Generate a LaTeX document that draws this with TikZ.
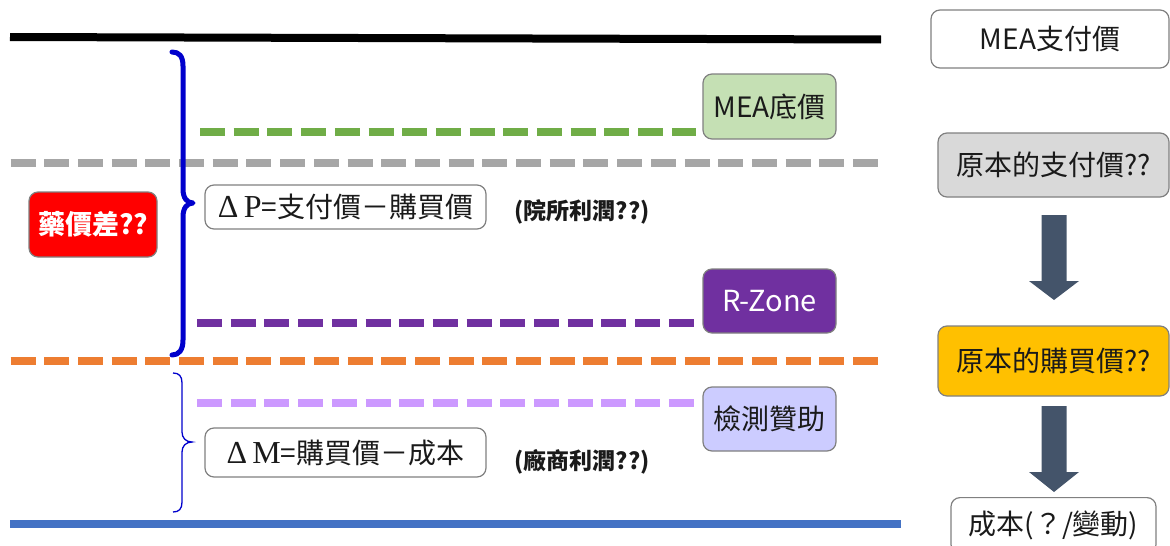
\documentclass[tikz,border=0pt]{standalone}
\usepackage{fontspec}
\setmainfont{Noto Sans CJK TC}
\newfontfamily\deltafont{Liberation Serif}
\definecolor{lnblue}{HTML}{4472C4}
\definecolor{lngray}{HTML}{A6A6A6}
\definecolor{lnorange}{HTML}{ED7D31}
\definecolor{lngreen}{HTML}{70AD47}
\definecolor{lnpurple}{HTML}{7030A0}
\definecolor{lnlilac}{HTML}{CC99FF}
\definecolor{bracecol}{HTML}{0000CC}
\definecolor{boxgray}{HTML}{808080}
\definecolor{fgreen}{HTML}{C5E0B4}
\definecolor{flilac}{HTML}{CCCCFF}
\definecolor{fgray}{HTML}{D9D9D9}
\definecolor{fgold}{HTML}{FFC000}
\definecolor{arrowcol}{HTML}{44546A}
\definecolor{textdark}{HTML}{1A1A1A}
\begin{document}
\begin{tikzpicture}[x=1pt,y=-1pt,
  box/.style={draw=boxgray, line width=1.2pt, rounded corners=9pt, text=textdark,
    font=\fontsize{28}{33}\selectfont, inner sep=0pt, align=center},
  dline/.style={line width=8pt, dash pattern=on 25pt off 8.7pt},
  solidline/.style={line width=8pt},
  note/.style={font=\fontsize{23}{28}\selectfont\bfseries, text=textdark, inner sep=0pt},
  bracebig/.style={draw=bracecol, line width=5pt, line cap=round, line join=round},
  bracesmall/.style={draw=bracecol, line width=1.3pt},
  blockarrow/.style={fill=arrowcol}
]
\useasboundingbox (0,0) rectangle (1170,546);

% right column
\node[box, minimum width=238, minimum height=58] (meapay) at (1050,39) {MEA支付價};
\node[box, fill=fgray, minimum width=231, minimum height=64] (origpay) at (1053.5,165) {原本的支付價??};
\node[box, fill=fgold, minimum width=231, minimum height=70] (origbuy) at (1053.5,361) {原本的購買價??};
\node[box, minimum width=205, minimum height=56, anchor=north] (cost) at (1053.5,497) {\raisebox{4pt}{成本(？/變動)}};

\fill[blockarrow] (1041.5,215) -- (1066.5,215) -- (1066.5,281) -- (1079,281) -- (1054,300) -- (1029,281) -- (1041.5,281) -- cycle;
\fill[blockarrow] (1041.5,406) -- (1066.5,406) -- (1066.5,472) -- (1079,472) -- (1054,492) -- (1029,472) -- (1041.5,472) -- cycle;

% level boxes
\node[box, fill=fgreen, minimum width=133, minimum height=65] (meafloor) at (769.5,106.5) {MEA底價};
\node[box, fill=lnpurple, text=white, minimum width=133, minimum height=64, font=\fontsize{29}{33}\selectfont] (rzone) at (769.5,301) {R-Zone};
\node[box, fill=flilac, minimum width=133, minimum height=64] (sponsor) at (769.5,419) {檢測贊助};

% horizontal lines
\coordinate (k0) at (10,37);
\coordinate (k1) at (881,39.5);
\draw[solidline, black] (k0) -- (k1);
\coordinate (b0) at (10,523.5);
\coordinate (b1) at (901,523.5);
\draw[solidline, lnblue] (b0) -- (b1);
\coordinate (gy0) at (10.5,163);
\coordinate (gy1) at (880,163);
\draw[dline, lngray] (gy0) -- (gy1);
\coordinate (or0) at (10.5,360.5);
\coordinate (or1) at (880,360.5);
\draw[dline, lnorange] (or0) -- (or1);
\coordinate (gr0) at (200,131.5);
\draw[dline, lngreen] (gr0) -- ([xshift=-6pt]meafloor.west |- gr0);
\coordinate (pu0) at (197,323);
\draw[dline, lnpurple] (pu0) -- ([xshift=-6pt]rzone.west |- pu0);
\coordinate (li0) at (197,403);
\draw[dline, lnlilac] (li0) -- ([xshift=-6pt]sponsor.west |- li0);

% braces
\draw[bracebig] (172,52) .. controls (179,52) and (183,56) .. (183,66)
  -- (183,189) .. controls (183,198) and (187,203) .. (193,203)
  .. controls (187,203) and (183,208) .. (183,217)
  -- (183,340) .. controls (183,350) and (179,355) .. (172,355);
\draw[bracesmall] (173,373) .. controls (179,373) and (182,376) .. (182,383)
  -- (182,432) .. controls (182,438) and (186,442) .. (192,442)
  .. controls (186,442) and (182,446) .. (182,452)
  -- (182,502) .. controls (182,509) and (179,512) .. (173,512);

% left labels
\node[box, fill=red, text=white, minimum width=128, minimum height=65, font=\fontsize{27}{32}\selectfont\bfseries] (gap) at (93,224.5) {藥價差??};
\node[box, minimum width=281, minimum height=44] (dp) at (345.5,207) {{\deltafont\fontsize{32}{33}\selectfont Δ\,P}=支付價－購買價};
\node[box, minimum width=281, minimum height=49] (dm) at (345.5,452.5) {{\deltafont\fontsize{32}{33}\selectfont Δ\,M}=購買價－成本};
\node[note] (hosp) at (582,212) {(院所利潤??)};
\node[note] (vendor) at (582,462) {(廠商利潤??)};
\end{tikzpicture}
\end{document}
